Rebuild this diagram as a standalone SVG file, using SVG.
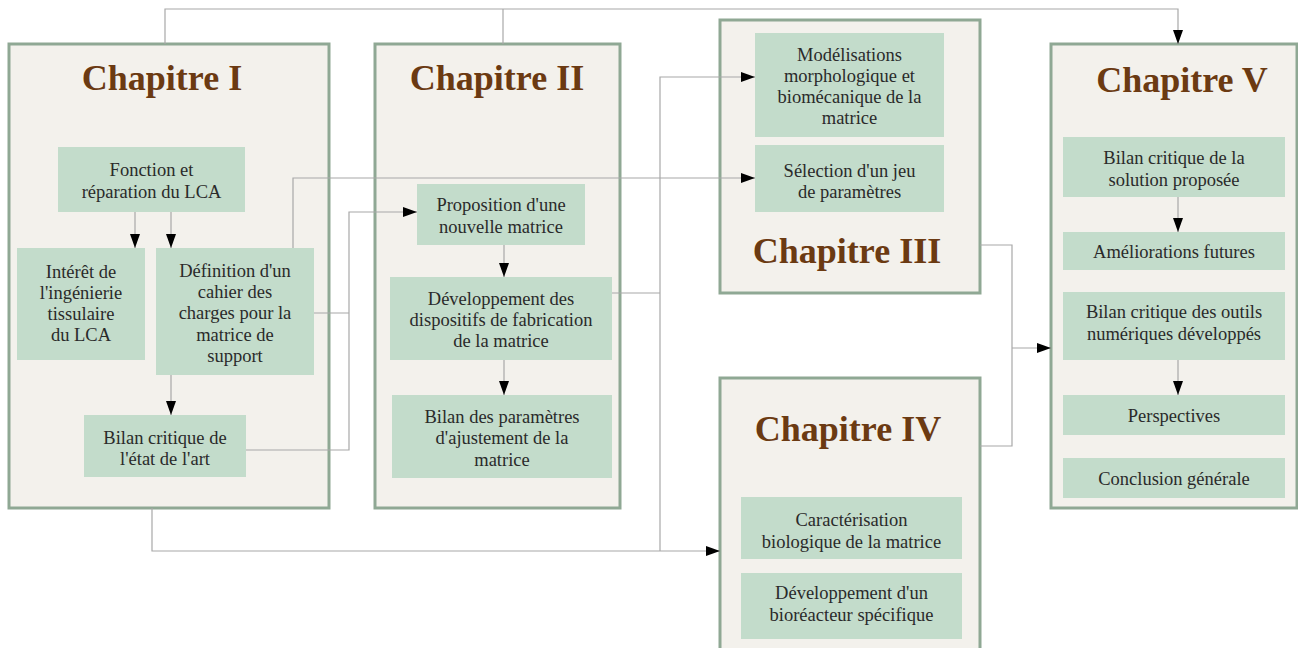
<svg xmlns="http://www.w3.org/2000/svg" width="1298" height="648" viewBox="0 0 1298 648">
<style>
.ch{fill:#f3f1ec;stroke:#8fa894;stroke-width:3}
.bx{fill:#c3dccb}
.t{font-family:"Liberation Serif",serif;font-size:18.5px;fill:#2a2a2a;text-anchor:middle}
.ti{font-family:"Liberation Serif",serif;font-size:36px;font-weight:bold;fill:#6b3a12;text-anchor:middle}
.c{fill:none;stroke:#a8a8a8;stroke-width:1.2}
</style>
<defs>
<marker id="ar" markerWidth="14" markerHeight="10" refX="14" refY="5" orient="auto" markerUnits="userSpaceOnUse">
<path d="M0,0 L14,5 L0,10 z" fill="#000"/>
</marker>
</defs>
<rect width="1298" height="648" fill="#fff"/>
<g id="chap1">
<rect class="ch" x="9" y="44" width="320" height="464"/>
<text class="ti" x="162" y="90">Chapitre I</text>
</g>
<g id="fonction">
<rect class="bx" x="58" y="147" width="187" height="65"/>
<text class="t" x="151.5" y="176">Fonction et</text>
<text class="t" x="151.5" y="198">réparation du LCA</text>
</g>
<g id="interet">
<rect class="bx" x="17" y="248" width="128" height="112"/>
<text class="t" x="81" y="278">Intérêt de</text>
<text class="t" x="81" y="299">l'ingénierie</text>
<text class="t" x="81" y="320">tissulaire</text>
<text class="t" x="81" y="341">du LCA</text>
</g>
<g id="definition">
<rect class="bx" x="156" y="248" width="158" height="127"/>
<text class="t" x="235" y="277">Définition d'un</text>
<text class="t" x="235" y="298">cahier des</text>
<text class="t" x="235" y="319">charges pour la</text>
<text class="t" x="235" y="341">matrice de</text>
<text class="t" x="235" y="362">support</text>
</g>
<g id="bilanart">
<rect class="bx" x="84" y="415" width="162" height="62"/>
<text class="t" x="165" y="444">Bilan critique de</text>
<text class="t" x="165" y="465">l'état de l'art</text>
</g>
<g id="chap2">
<rect class="ch" x="375" y="44" width="245" height="464"/>
<text class="ti" x="497" y="90">Chapitre II</text>
</g>
<g id="proposition">
<rect class="bx" x="417" y="184" width="168" height="61"/>
<text class="t" x="501" y="211">Proposition d'une</text>
<text class="t" x="501" y="233">nouvelle matrice</text>
</g>
<g id="developpement">
<rect class="bx" x="390" y="277" width="222" height="83"/>
<text class="t" x="501" y="305">Développement des</text>
<text class="t" x="501" y="326">dispositifs de fabrication</text>
<text class="t" x="501" y="347">de la matrice</text>
</g>
<g id="bilanparam">
<rect class="bx" x="392" y="395" width="220" height="83"/>
<text class="t" x="502" y="423">Bilan des paramètres</text>
<text class="t" x="502" y="444">d'ajustement de la</text>
<text class="t" x="502" y="466">matrice</text>
</g>
<g id="chap3">
<rect class="ch" x="720" y="20" width="260" height="273"/>
<text class="ti" x="847" y="263">Chapitre III</text>
</g>
<g id="modelisations">
<rect class="bx" x="755" y="33" width="189" height="104"/>
<text class="t" x="849.5" y="61">Modélisations</text>
<text class="t" x="849.5" y="82">morphologique et</text>
<text class="t" x="849.5" y="103">biomécanique de la</text>
<text class="t" x="849.5" y="124">matrice</text>
</g>
<g id="selection">
<rect class="bx" x="755" y="145" width="189" height="67"/>
<text class="t" x="849.5" y="177">Sélection d'un jeu</text>
<text class="t" x="849.5" y="198">de paramètres</text>
</g>
<g id="chap4">
<rect class="ch" x="720" y="378" width="260" height="280"/>
<text class="ti" x="848" y="441">Chapitre IV</text>
</g>
<g id="caracterisation">
<rect class="bx" x="741" y="497" width="221" height="62"/>
<text class="t" x="851.5" y="526">Caractérisation</text>
<text class="t" x="851.5" y="548">biologique de la matrice</text>
</g>
<g id="bioreacteur">
<rect class="bx" x="741" y="573" width="221" height="66"/>
<text class="t" x="851.5" y="599">Développement d'un</text>
<text class="t" x="851.5" y="621">bioréacteur spécifique</text>
</g>
<g id="chap5">
<rect class="ch" x="1051" y="44" width="246" height="464"/>
<text class="ti" x="1182" y="92">Chapitre V</text>
</g>
<g id="bilansolution">
<rect class="bx" x="1063" y="137" width="222" height="60"/>
<text class="t" x="1174" y="164">Bilan critique de la</text>
<text class="t" x="1174" y="186">solution proposée</text>
</g>
<g id="ameliorations">
<rect class="bx" x="1063" y="232" width="222" height="38"/>
<text class="t" x="1174" y="258">Améliorations futures</text>
</g>
<g id="bilanoutils">
<rect class="bx" x="1063" y="292" width="222" height="68"/>
<text class="t" x="1174" y="318">Bilan critique des outils</text>
<text class="t" x="1174" y="340">numériques développés</text>
</g>
<g id="perspectives">
<rect class="bx" x="1063" y="395" width="222" height="40"/>
<text class="t" x="1174" y="422">Perspectives</text>
</g>
<g id="conclusion">
<rect class="bx" x="1063" y="458" width="222" height="40"/>
<text class="t" x="1174" y="485">Conclusion générale</text>
</g>
<g id="connectors">
<path class="c" d="M165 44 V9 H1178 V44" marker-end="url(#ar)"/>
<path class="c" d="M503 44 V9"/>
<path class="c" d="M135 212 V248" marker-end="url(#ar)"/>
<path class="c" d="M171 212 V248" marker-end="url(#ar)"/>
<path class="c" d="M171 375 V415" marker-end="url(#ar)"/>
<path class="c" d="M293 248 V178 H755" marker-end="url(#ar)"/>
<path class="c" d="M314 313 H349"/>
<path class="c" d="M246 450 H349 V212 H417" marker-end="url(#ar)"/>
<path class="c" d="M504 245 V277" marker-end="url(#ar)"/>
<path class="c" d="M504 360 V395" marker-end="url(#ar)"/>
<path class="c" d="M612 293 H660"/>
<path class="c" d="M660 551 V77 H755" marker-end="url(#ar)"/>
<path class="c" d="M152 508 V551 H720" marker-end="url(#ar)"/>
<path class="c" d="M980 245 H1012 V446 H980"/>
<path class="c" d="M1012 348 H1051" marker-end="url(#ar)"/>
<path class="c" d="M1178 197 V232" marker-end="url(#ar)"/>
<path class="c" d="M1178 360 V395" marker-end="url(#ar)"/>
</g>
</svg>
